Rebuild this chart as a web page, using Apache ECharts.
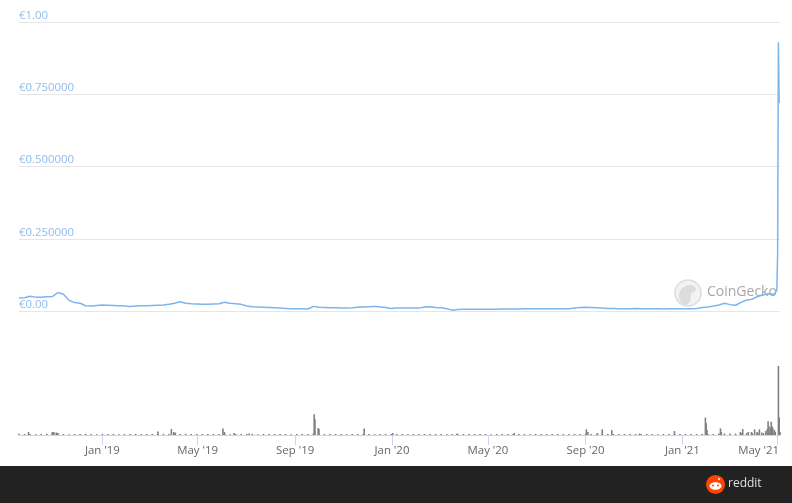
<!DOCTYPE html>
<html>
<head>
<meta charset="utf-8">
<style>html,body{margin:0;padding:0;background:#fff}#c{width:792px;height:503px}</style>
<script src="https://cdn.jsdelivr.net/npm/echarts@6/dist/echarts.min.js"></script>
</head>
<body>
<div id="c"></div>
<script>
const startDate = '2018-09-18';
const weeklyPrice = [.045,.046,.051,.048,.048,.049,.050,.064,.058,.037,.029,.027,.018,.017,.019,.021,.020,.019,.018,.017,.016,.017,.018,.018,.019,.020,.021,.023,.027,.032,.027,.025,.024,.023,.023,.024,.025,.030,.027,.025,.023,.017,.015,.014,.013,.012,.011,.010,.009,.008,.008,.008,.007,.016,.013,.012,.011,.011,.010,.010,.011,.013,.014,.015,.016,.014,.012,.009,.010,.010,.010,.010,.010,.014,.015,.012,.011,.008,.003,.005,.006,.006,.006,.006,.006,.006,.006,.007,.007,.007,.007,.008,.008,.008,.008,.008,.008,.008,.008,.008,.010,.012,.013,.012,.011,.010,.009,.009,.008,.008,.008,.009,.008,.008,.008,.008,.007,.008,.008,.008,.008,.008,.009,.012,.014,.017,.021,.027,.022,.020,.030,.038,.041,.050,.056,.060,.058];
const tailDates = ['2021-04-28','2021-04-30','2021-05-01','2021-05-02','2021-05-03'];
const tailPrice = [.060,.072,.20,.93,.72];
const baseVolume = [1.2,1,1,.8,1,1.3,1.2,1,1,.8,1,1,1.2,1,.8,1,1,1,.8,1,1,1.2,1,1,1,1,1.2,1,1,1,1.2,1,1,1,1,1.2,1,1,.8,1,1,1,1,.8,1,1,1,1,1,.8,1,1,1,1.5,1,1,1,1,1,.8,1,1,1,1,.8,1,1,1,1,1,.8,1,1,1,1,1,1,.8,1,1,1,1,1,1,1,.8,1,1,1,1,1,1,.8,1,1,1,1,1,1,1,1,1,1,1,.8,1,1,1,1,1,1,1,1,1,1,.8,1,1,1,1,1,1,1,1.2,1,1,1.5,1.5,1.5,1.5,2,2,2,2,2,2.5,2.5,3];
const spikeDates = ['2018-09-30','2018-10-30','2018-11-01','2018-11-04','2018-11-06','2019-03-12','2019-03-29','2019-04-01','2019-04-03','2019-06-02','2019-06-04','2019-06-16','2019-07-05','2019-09-25','2019-09-26','2019-09-30','2019-10-01','2019-11-27','2020-01-02','2020-03-23','2020-06-03','2020-09-02','2020-09-04','2020-09-16','2020-09-22','2020-10-04','2020-11-08','2020-12-22','2021-01-30','2021-01-31','2021-02-01','2021-02-18','2021-02-19','2021-03-15','2021-03-18','2021-03-25','2021-03-29','2021-04-02','2021-04-05','2021-04-08','2021-04-11','2021-04-16','2021-04-18','2021-04-19','2021-04-20','2021-04-22','2021-04-23','2021-04-24','2021-04-25','2021-04-27','2021-04-28','2021-05-02','2021-05-03'];
const spikeVolume = [3,3,3,2.5,2,3.5,6,3,2.5,6.5,3,2,1.5,21,16,7,6,6.5,2,1.5,2,5.7,3,2,5.7,5,1.5,4,17.7,12,5,6.7,3,3,6,3,3,5.7,3,5.7,2.5,4,6,14,9,8,13.5,9,7,5,3,70,18];
const tickDates = ['2019-01-01','2019-05-01','2019-09-01','2020-01-01','2020-05-01','2020-09-01','2021-01-01','2021-05-01'];
const tickLabels = ["Jan '19","May '19","Sep '19","Jan '20","May '20","Sep '20","Jan '21","May '21"];
const priceTicks = [0,0.25,0.5,0.75,1];
const priceLabels = ['€0.00','€0.250000','€0.500000','€0.750000','€1.00'];

const DAY = 86400000;
const ts = s => new Date(s + 'T00:00:00Z').getTime();
const t0 = ts(startDate);
const priceData = weeklyPrice.map((v,i)=>[t0+7*i*DAY,v]).concat(tailDates.map((d,i)=>[ts(d),tailPrice[i]]));
const volumeData = baseVolume.map((v,i)=>[t0+7*i*DAY,v]).concat(spikeDates.map((d,i)=>[ts(d),spikeVolume[i]]));
const tickTs = tickDates.map(ts);
const xMin = t0, xMax = ts('2021-05-04');
const font = '"Open Sans", sans-serif';
const labelFont = {fontFamily:font,fontSize:11.4,color:'#666'};

const chart = echarts.init(document.getElementById('c'), null, {renderer:'canvas'});
chart.setOption({
  animation:false,
  backgroundColor:'#fff',
  grid:[
    {left:19,top:22,width:761,height:289,outerBoundsMode:'none'},
    {left:19,top:366,width:761,height:69,outerBoundsMode:'none'}
  ],
  xAxis:[
    {type:'value',gridIndex:0,min:xMin,max:xMax,show:false,splitLine:{show:false}},
    {type:'value',gridIndex:1,min:xMin,max:xMax,
      axisLine:{show:true,onZero:false,lineStyle:{color:'#ccd6eb',width:1}},
      axisTick:{show:true,length:10,lineStyle:{color:'#ccd6eb'},customValues:tickTs},
      splitLine:{show:false},minorTick:{show:false},
      axisLabel:Object.assign({customValues:tickTs,margin:10,hideOverlap:false,showMinLabel:true,showMaxLabel:true,
        rich:{last:Object.assign({padding:[0,38,0,0]},labelFont)},
        formatter:v=>{const i=tickTs.indexOf(v);return i===tickTs.length-1?'{last|'+tickLabels[i]+'}':(tickLabels[i]||'');}},labelFont)}
  ],
  yAxis:[
    {type:'value',gridIndex:0,min:0,max:1,interval:.25,
      axisLine:{show:false},axisTick:{show:false},
      splitLine:{show:true,lineStyle:{color:'#e6e6e6',width:1}},
      axisLabel:{inside:true,margin:0,align:'left',verticalAlign:'bottom',verticalAlignMinLabel:'bottom',verticalAlignMaxLabel:'bottom',padding:[0,0,1,0],fontFamily:font,fontSize:11.4,color:'#8dbcee',
        formatter:v=>priceLabels[priceTicks.indexOf(v)]}},
    {type:'value',gridIndex:1,min:0,max:70,show:false,splitLine:{show:false}}
  ],
  graphic:[
    {type:'rect',z:0,silent:true,shape:{x:0,y:466,width:792,height:37},style:{fill:'#222222'}},
    {type:'circle',z:0,silent:true,shape:{cx:688,cy:293,r:13},style:{fill:'#f3f3f3',stroke:'#dddddd',lineWidth:1.5}},
    {type:'ellipse',z:0,silent:true,shape:{cx:685,cy:296,rx:6,ry:9},style:{fill:'#dcdcdc'}},
    {type:'ellipse',z:0,silent:true,shape:{cx:690,cy:289,rx:6,ry:4},style:{fill:'#dcdcdc'}},
    {type:'text',z:0,silent:true,style:{x:707,y:292,text:'CoinGecko',fill:'#a8a8a8',font:'14px '+font,textVerticalAlign:'middle'}},
    {type:'circle',z:5,silent:true,shape:{cx:715.5,cy:484.5,r:9.5},style:{fill:'#ff4500'}},
    {type:'ellipse',z:6,silent:true,shape:{cx:715.5,cy:486,rx:6,ry:3.8},style:{fill:'#fff'}},
    {type:'circle',z:7,silent:true,shape:{cx:713,cy:485.5,r:1},style:{fill:'#ff4500'}},
    {type:'circle',z:7,silent:true,shape:{cx:718,cy:485.5,r:1},style:{fill:'#ff4500'}},
    {type:'circle',z:6,silent:true,shape:{cx:719,cy:479,r:1.1},style:{fill:'#fff'}},
    {type:'text',z:6,silent:true,style:{x:728,y:484,text:'reddit',fill:'#e0e0e0',font:'12px '+font,textVerticalAlign:'middle'}}
  ],
  series:[
    {type:'line',xAxisIndex:0,yAxisIndex:0,data:priceData,showSymbol:false,smooth:false,
      lineStyle:{color:'#7cb5ec',width:1.5},itemStyle:{color:'#7cb5ec'},z:3},
    {type:'custom',xAxisIndex:1,yAxisIndex:1,data:volumeData,encode:{x:0,y:1},z:3,clip:false,
      renderItem:(params,api)=>{
        const top = api.coord([api.value(0),api.value(1)]);
        const base = api.coord([api.value(0),0]);
        return {type:'rect',shape:{x:top[0]-0.8,y:top[1],width:1.6,height:base[1]-top[1]},style:{fill:'#808080'}};
      }}
  ]
});
</script>
</body>
</html>
